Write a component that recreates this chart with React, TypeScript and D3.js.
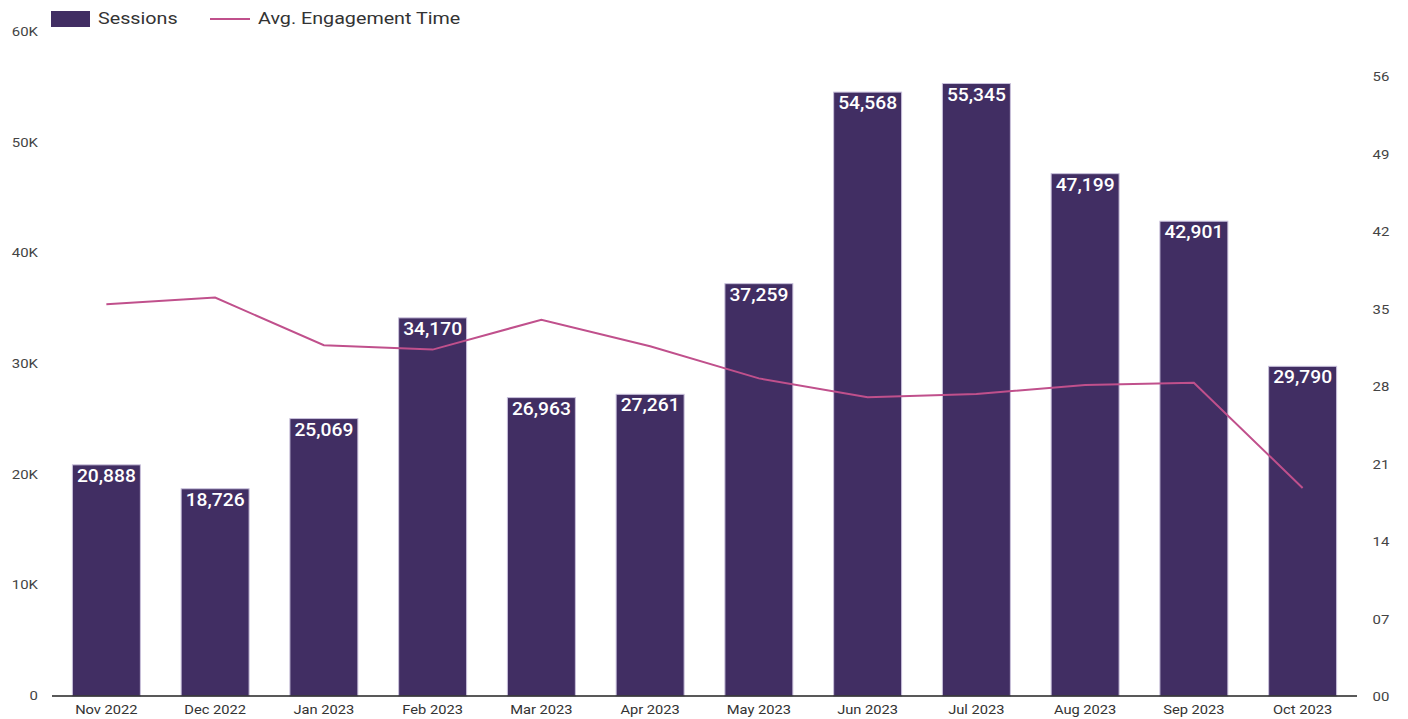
import React from "react";
import * as d3 from "d3";

const months = ["Nov 2022","Dec 2022","Jan 2023","Feb 2023","Mar 2023","Apr 2023","May 2023","Jun 2023","Jul 2023","Aug 2023","Sep 2023","Oct 2023"];
const sessions = [20888,18726,25069,34170,26963,27261,37259,54568,55345,47199,42901,29790];
const engagement = [35.4,36.0,31.7,31.3,34.0,31.6,28.7,27.0,27.3,28.1,28.3,18.8];
const leftTicks = [0,10000,20000,30000,40000,50000,60000];
const rightTicks = [0,7,14,21,28,35,42,49,56];

const W = 1408, H = 719;
const left = 52, right = 1357, top = 32, bottom = 696;
const barColor = "#412e63";
const lineColor = "#c0508c";
const font = "Roboto, 'Noto Sans', sans-serif";

function T(props: { x: number; y: number; sx?: number; children: React.ReactNode; [k: string]: any }) {
  const { x, y, sx = 1.13, children, ...rest } = props;
  return (
    <text transform={`translate(${x},${y}) scale(${sx},1)`} {...rest}>{children}</text>
  );
}

export default function App() {
  const x = d3.scaleBand<string>().domain(months).range([left, right]).paddingInner(0.375).paddingOuter(0.1875);
  const yL = d3.scaleLinear().domain([0, 60000]).range([bottom, top]);
  const yR = d3.scaleLinear().domain([0, 60]).range([bottom, top]);
  const line = d3.line<number>().x((_, i) => (x(months[i]) as number) + x.bandwidth() / 2).y(d => yR(d));
  const fmt = d3.format(",");
  return (
    <svg width={W} height={H} style={{ position: "absolute", left: 0, top: 0, background: "#fff" }} fontFamily={font}>
      {/* legend */}
      <rect x={51} y={11} width={39} height={16} fill={barColor} />
      <T x={98} y={24} sx={1.16} fontSize={17} fill="#333">Sessions</T>
      <line x1={210} x2={250} y1={19} y2={19} stroke={lineColor} strokeWidth={2} />
      <T x={258} y={24} sx={1.16} fontSize={17} fill="#333">Avg. Engagement Time</T>
      {/* left axis labels */}
      {leftTicks.map(t => (
        <T key={t} x={38} y={yL(t) + 4} sx={1.15} fontSize={13} fill="#444" textAnchor="end">{t === 0 ? "0" : `${t / 1000}K`}</T>
      ))}
      {/* right axis labels */}
      {rightTicks.map(t => (
        <T key={t} x={1381} y={yR(t) + 5} sx={1.15} fontSize={13} fill="#444" textAnchor="middle">{String(t).padStart(2, "0")}</T>
      ))}
      {/* bars */}
      {sessions.map((v, i) => (
        <g key={months[i]}>
          <rect x={x(months[i])} y={yL(v)} width={x.bandwidth()} height={bottom - yL(v)} fill={barColor} stroke="#c9c1dc" strokeWidth={1} />
          <T x={(x(months[i]) as number) + x.bandwidth() / 2} y={yL(v) + 17} sx={1.1} fontSize={17.5} fontWeight={500} fill="#fff" textAnchor="middle">{fmt(v)}</T>
        </g>
      ))}
      {/* line */}
      <path d={line(engagement) || ""} fill="none" stroke={lineColor} strokeWidth={2} />
      {/* x axis */}
      <line x1={left} x2={right} y1={bottom} y2={bottom} stroke="#222" strokeWidth={1.5} />
      {months.map(m => (
        <T key={m} x={(x(m) as number) + x.bandwidth() / 2} y={714} sx={1.13} fontSize={13} fill="#333" textAnchor="middle">{m}</T>
      ))}
    </svg>
  );
}
